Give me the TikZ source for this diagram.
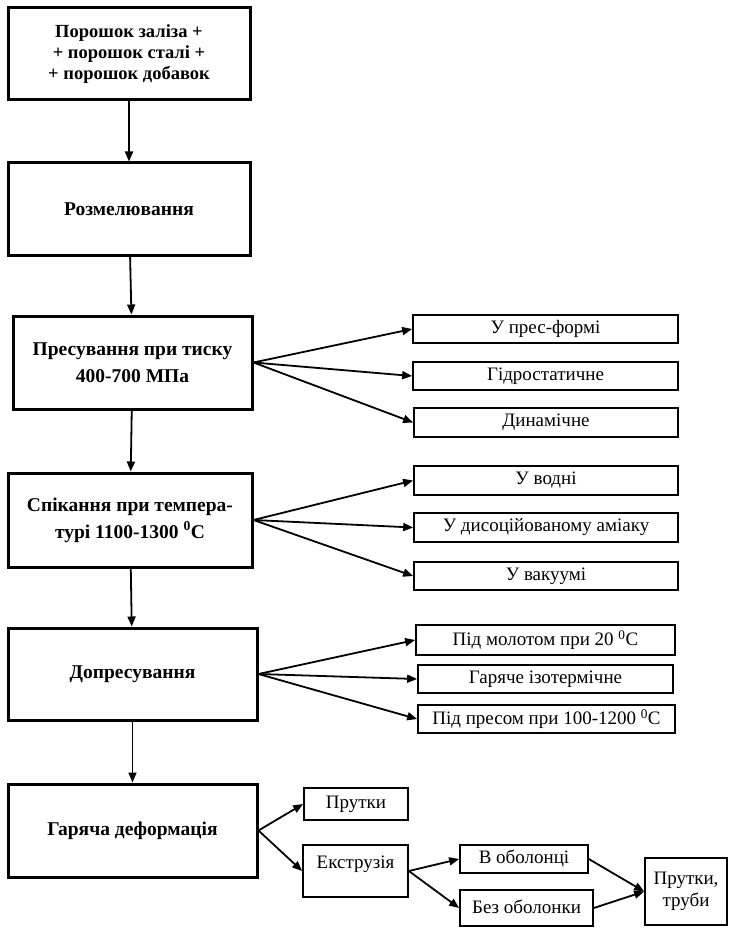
\documentclass[tikz,border=0pt]{standalone}
\usepackage{fontspec}
\setmainfont{Liberation Serif}
\usetikzlibrary{arrows.meta}
\begin{document}
\begin{tikzpicture}[x=1pt,y=-1pt,
  mainbox/.style={draw,line width=3pt,align=center,inner sep=0pt,
    font=\bfseries\fontsize{19.5}{27}\selectfont},
  sidebox/.style={draw,line width=1.7pt,align=center,inner sep=0pt,
    font=\fontsize{19}{22}\selectfont},
  arr/.style={line width=1.8pt,-{Triangle[length=10pt,width=8pt]}}]
  \useasboundingbox (0,0) rectangle (729,928);
  % main chain
  \node[mainbox,minimum width=242pt,minimum height=92pt,
    font=\bfseries\fontsize{18.5}{21}\selectfont] (powder) at (129,54)
    {Порошок заліза +\\+ порошок сталі +\\+ порошок добавок};
  \node[mainbox,minimum width=242pt,minimum height=92pt] (mill) at (129,209) {Розмелювання};
  \node[mainbox,minimum width=239pt,minimum height=93pt] (press) at (132.5,362.5)
    {Пресування при тиску\\400-700 МПа};
  \node[mainbox,minimum width=244pt,minimum height=94pt] (sinter) at (130,520)
    {Спікання при темпера-\\турі 1100-1300 \textsuperscript{0}C};
  \node[mainbox,minimum width=249pt,minimum height=92pt] (repress) at (132.5,674) {Допресування};
  \node[mainbox,minimum width=249pt,minimum height=93pt] (hot) at (132.5,830.5) {Гаряча деформація};
  \draw[arr] (powder) -- (mill);
  \draw[arr] (mill) -- (press);
  \draw[arr] (press) -- (sinter);
  \draw[arr] (sinter) -- (repress);
  \draw[arr] (repress) -- (hot);
  % pressing
  \node[sidebox,minimum width=265pt,minimum height=28pt] (p1) at (545.5,329) {У прес-формі};
  \node[sidebox,minimum width=265pt,minimum height=28pt] (p2) at (545.5,376) {Гідростатичне};
  \node[sidebox,minimum width=264pt,minimum height=29pt] (p3) at (546,422.5) {Динамічне};
  % sintering
  \node[sidebox,minimum width=264pt,minimum height=29pt] (s1) at (546,480.5) {У водні};
  \node[sidebox,minimum width=264pt,minimum height=29pt] (s2) at (546,527.5) {У дисоційованому аміаку};
  \node[sidebox,minimum width=264pt,minimum height=28pt] (s3) at (546,576) {У вакуумі};
  % repressing
  \node[sidebox,minimum width=259pt,minimum height=30pt] (d1) at (545.5,640)
    {Під молотом при 20 \textsuperscript{0}C};
  \node[sidebox,minimum width=255pt,minimum height=28pt] (d2) at (545.5,679) {Гаряче ізотермічне};
  \node[sidebox,minimum width=257pt,minimum height=28pt] (d3) at (546.5,719)
    {Під пресом при 100-1200 \textsuperscript{0}C};
  \foreach \a/\b in {press/p1,press/p2,press/p3,sinter/s1,sinter/s2,sinter/s3,
                     repress/d1,repress/d2,repress/d3}
    \draw[arr] (\a.east) -- (\b.west);
  % hot deformation
  \node[sidebox,minimum width=104pt,minimum height=32pt] (rods) at (356,804) {Прутки};
  \node[sidebox,minimum width=105pt,text height=23pt,text depth=29pt] (extr) at (355.5,871) {Екструзія};
  \node[sidebox,minimum width=128pt,minimum height=28pt] (shell) at (524,859) {В оболонці};
  \node[sidebox,minimum width=133pt,text height=23pt,text depth=13pt] (noshell) at (526.5,908) {Без оболонки};
  \node[sidebox,minimum width=82pt,minimum height=67pt] (prod) at (686,891.5) {Прутки,\\труби};
  \draw[arr] (hot.east) -- (rods.west);
  \draw[arr] (hot.east) -- (extr.west);
  \draw[arr] (extr.east) -- (shell.west);
  \draw[arr] (extr.east) -- (noshell.west);
  \draw[arr] (shell.east) -- (prod.west);
  \draw[arr] (noshell.east) -- (prod.west);
\end{tikzpicture}
\end{document}
